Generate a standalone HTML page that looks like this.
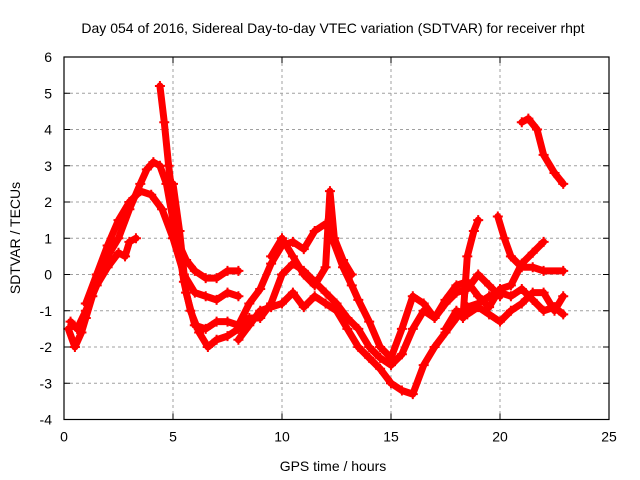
<!DOCTYPE html>
<html><head><meta charset="utf-8"><style>
html,body{margin:0;padding:0;background:#fff;}
svg{display:block;font-family:"Liberation Sans",sans-serif;}
</style></head><body>
<svg id="chart" width="640" height="480" xmlns="http://www.w3.org/2000/svg">
<text x="333" y="33" font-size="14" text-anchor="middle">Day 054 of 2016, Sidereal Day-to-day VTEC variation (SDTVAR) for receiver rhpt</text>
<text x="333" y="471" font-size="14" text-anchor="middle">GPS time / hours</text>
<text transform="translate(20,238) rotate(-90)" font-size="14" text-anchor="middle">SDTVAR / TECUs</text>
<g id="grid"></g>
<g id="ticks"></g>
<g id="series"></g>
<rect x="64" y="57" width="545" height="362.5" fill="none" stroke="#000" stroke-width="1.2"/>
</svg>
<script>
const xTicks=[0,5,10,15,20,25];
const yTicks=[-4,-3,-2,-1,0,1,2,3,4,5,6];
const trackA=[[0.2,-1.5],[0.5,-2.0],[0.8,-1.6],[1.0,-1.2],[1.3,-0.6],[1.6,0],[2.0,0.5],[2.5,1.0],[3.0,1.8],[3.5,2.5],[3.8,2.9],[4.1,3.1],[4.4,3.0],[4.7,2.5],[5.0,1.5],[5.3,0.8],[5.6,0.4],[6.0,0.1],[6.5,-0.1],[7.0,-0.1],[7.5,0.1],[8.0,0.1]];
const trackB=[[0.3,-1.3],[0.6,-1.5],[1.0,-1.0],[1.5,-0.3],[2.0,0.2],[2.5,0.6],[2.8,0.5],[3.0,0.9],[3.3,1.0]];
const trackC=[[1.0,-0.8],[1.5,0],[2.0,0.8],[2.5,1.5],[3.0,2.0],[3.5,2.3],[4.0,2.2],[4.5,1.8],[5.0,1.0],[5.5,0],[6.0,-0.5],[6.5,-0.6],[7.0,-0.7],[7.5,-0.5],[8.0,-0.6]];
const trackD=[[4.4,5.2],[4.6,4.2],[4.8,3.0],[5.0,2.0],[5.2,1.0],[5.5,-0.2],[5.8,-1.0],[6.2,-1.6],[6.6,-2.0],[7.0,-1.8],[7.5,-1.7],[8.0,-1.5],[8.5,-1.2],[9.0,-1.2],[9.5,-0.8],[10,0.0],[10.5,0.3],[11,0.1],[11.5,-0.2],[12,-0.5],[12.5,-0.8],[13,-1.2],[13.5,-1.5],[14,-2.0],[14.5,-2.3],[15,-2.5],[15.5,-2.2],[16,-1.5],[16.5,-1.0],[17,-1.2],[17.5,-0.8],[18,-0.5],[18.5,-0.4],[19,0.0],[19.5,-0.3],[20,-0.6]];
const trackE=[[5.0,2.5],[5.3,1.2],[5.6,-0.5],[6.0,-1.4],[6.5,-1.5],[7,-1.3],[7.5,-1.3],[8,-1.4],[8.5,-0.8],[9,-0.4],[9.5,0.3],[10,0.8],[10.5,0.9],[11,0.7],[11.5,1.2],[12,1.4],[12.3,1.0],[12.8,0.2],[13.2,-0.3],[13.5,-0.7],[14,-1.3],[14.5,-2.0],[15,-2.3],[15.5,-1.5],[16,-0.6],[16.5,-0.8],[17,-1.2],[17.5,-0.7],[18,-0.3],[18.5,-0.2],[19,-0.6],[19.5,-0.9],[20,-0.4],[20.5,-0.3],[21,0.3],[21.5,0.6],[22,0.9]];
const trackF=[[8,-1.8],[8.5,-1.4],[9,-1.0],[9.5,-0.9],[10,-0.8],[10.5,-0.5],[11,-0.9],[11.5,-0.6],[12,-0.8],[12.5,-1.0],[13,-1.5],[13.5,-2.0],[14,-2.3],[14.5,-2.6],[15,-3.0],[15.5,-3.2],[16,-3.3],[16.5,-2.5],[17,-2.0],[17.5,-1.6],[18,-1.2],[18.5,-0.9],[19,-0.8],[19.5,-0.6],[20,-0.5],[20.5,-0.6],[21,-0.4],[21.5,-0.7],[22,-1.0],[22.5,-0.9],[22.9,-1.1]];
const trackG=[[9.5,0.5],[10,1.0],[10.5,0.5],[11,0.0],[11.5,-0.3],[12,0.2],[12.2,2.3],[12.4,1.0],[12.8,0.4],[13.2,0.0]];
const trackH=[[19.9,1.6],[20.2,1.0],[20.5,0.5],[21,0.2],[21.5,0.2],[22,0.1],[22.9,0.1]];
const trackI=[[17.5,-1.5],[18,-1.0],[18.5,-1.1],[19,-0.9],[19.5,-1.1],[20,-1.3],[20.5,-1.0],[21,-0.8],[21.5,-0.5],[22,-0.5],[22.5,-1.0],[22.9,-0.6]];
const trackJ=[[18.3,-1.2],[18.5,0.5],[18.8,1.2],[19,1.5]];
const trackK=[[21,4.2],[21.3,4.3],[21.7,4.0],[22,3.3],[22.5,2.8],[22.9,2.5]];
const tracks=[trackA,trackB,trackC,trackD,trackE,trackF,trackG,trackH,trackI,trackJ,trackK];
const NS="http://www.w3.org/2000/svg";
const X0=64,X1=609,Y0=419.5,Y1=57;
function sx(v){return X0+(v-0)/(25-0)*(X1-X0);}
function sy(v){return Y0-(v+4)/10*(Y0-Y1);}
function mk(t,a,p){const e=document.createElementNS(NS,t);for(const k in a)e.setAttribute(k,a[k]);p.appendChild(e);return e;}
const grid=document.getElementById('grid'),ticks=document.getElementById('ticks'),ser=document.getElementById('series');
xTicks.forEach(v=>{
  if(v>0&&v<25){const g=mk('line',{x1:sx(v),x2:sx(v),y1:Y1,y2:Y0,stroke:'#a0a0a0','stroke-dasharray':'3,3'},grid);
  
  }
  mk('line',{x1:sx(v),x2:sx(v),y1:Y0,y2:Y0-6,stroke:'#000'},ticks);
  mk('line',{x1:sx(v),x2:sx(v),y1:Y1,y2:Y1+6,stroke:'#000'},ticks);
  const t=mk('text',{x:sx(v),y:Y0+22,'font-size':14,'text-anchor':'middle'},ticks);t.textContent=v;
  
  
});
yTicks.forEach(v=>{
  if(v>-4&&v<6){const g=mk('line',{x1:X0,x2:X1,y1:sy(v),y2:sy(v),stroke:'#a0a0a0','stroke-dasharray':'3,3'},grid);
  
  }
  mk('line',{x1:X0,x2:X0+6,y1:sy(v),y2:sy(v),stroke:'#000'},ticks);
  mk('line',{x1:X1,x2:X1-6,y1:sy(v),y2:sy(v),stroke:'#000'},ticks);
  const t=mk('text',{x:X0-12,y:sy(v)+5,'font-size':14,'text-anchor':'end'},ticks);t.textContent=v;
  
  
});
tracks.forEach(tr=>{
  const pl=mk('polyline',{points:tr.map(p=>sx(p[0])+','+sy(p[1])).join(' '),fill:'none',stroke:'#f00','stroke-width':7,'stroke-linejoin':'round','stroke-linecap':'round'},ser);
  
  
  tr.forEach(p=>{
    const m=mk('path',{d:`M${sx(p[0])-5},${sy(p[1])}h10M${sx(p[0])},${sy(p[1])-5}v10`,stroke:'#f00','stroke-width':2},ser);
    
    
  });
});
</script>
</body></html>
